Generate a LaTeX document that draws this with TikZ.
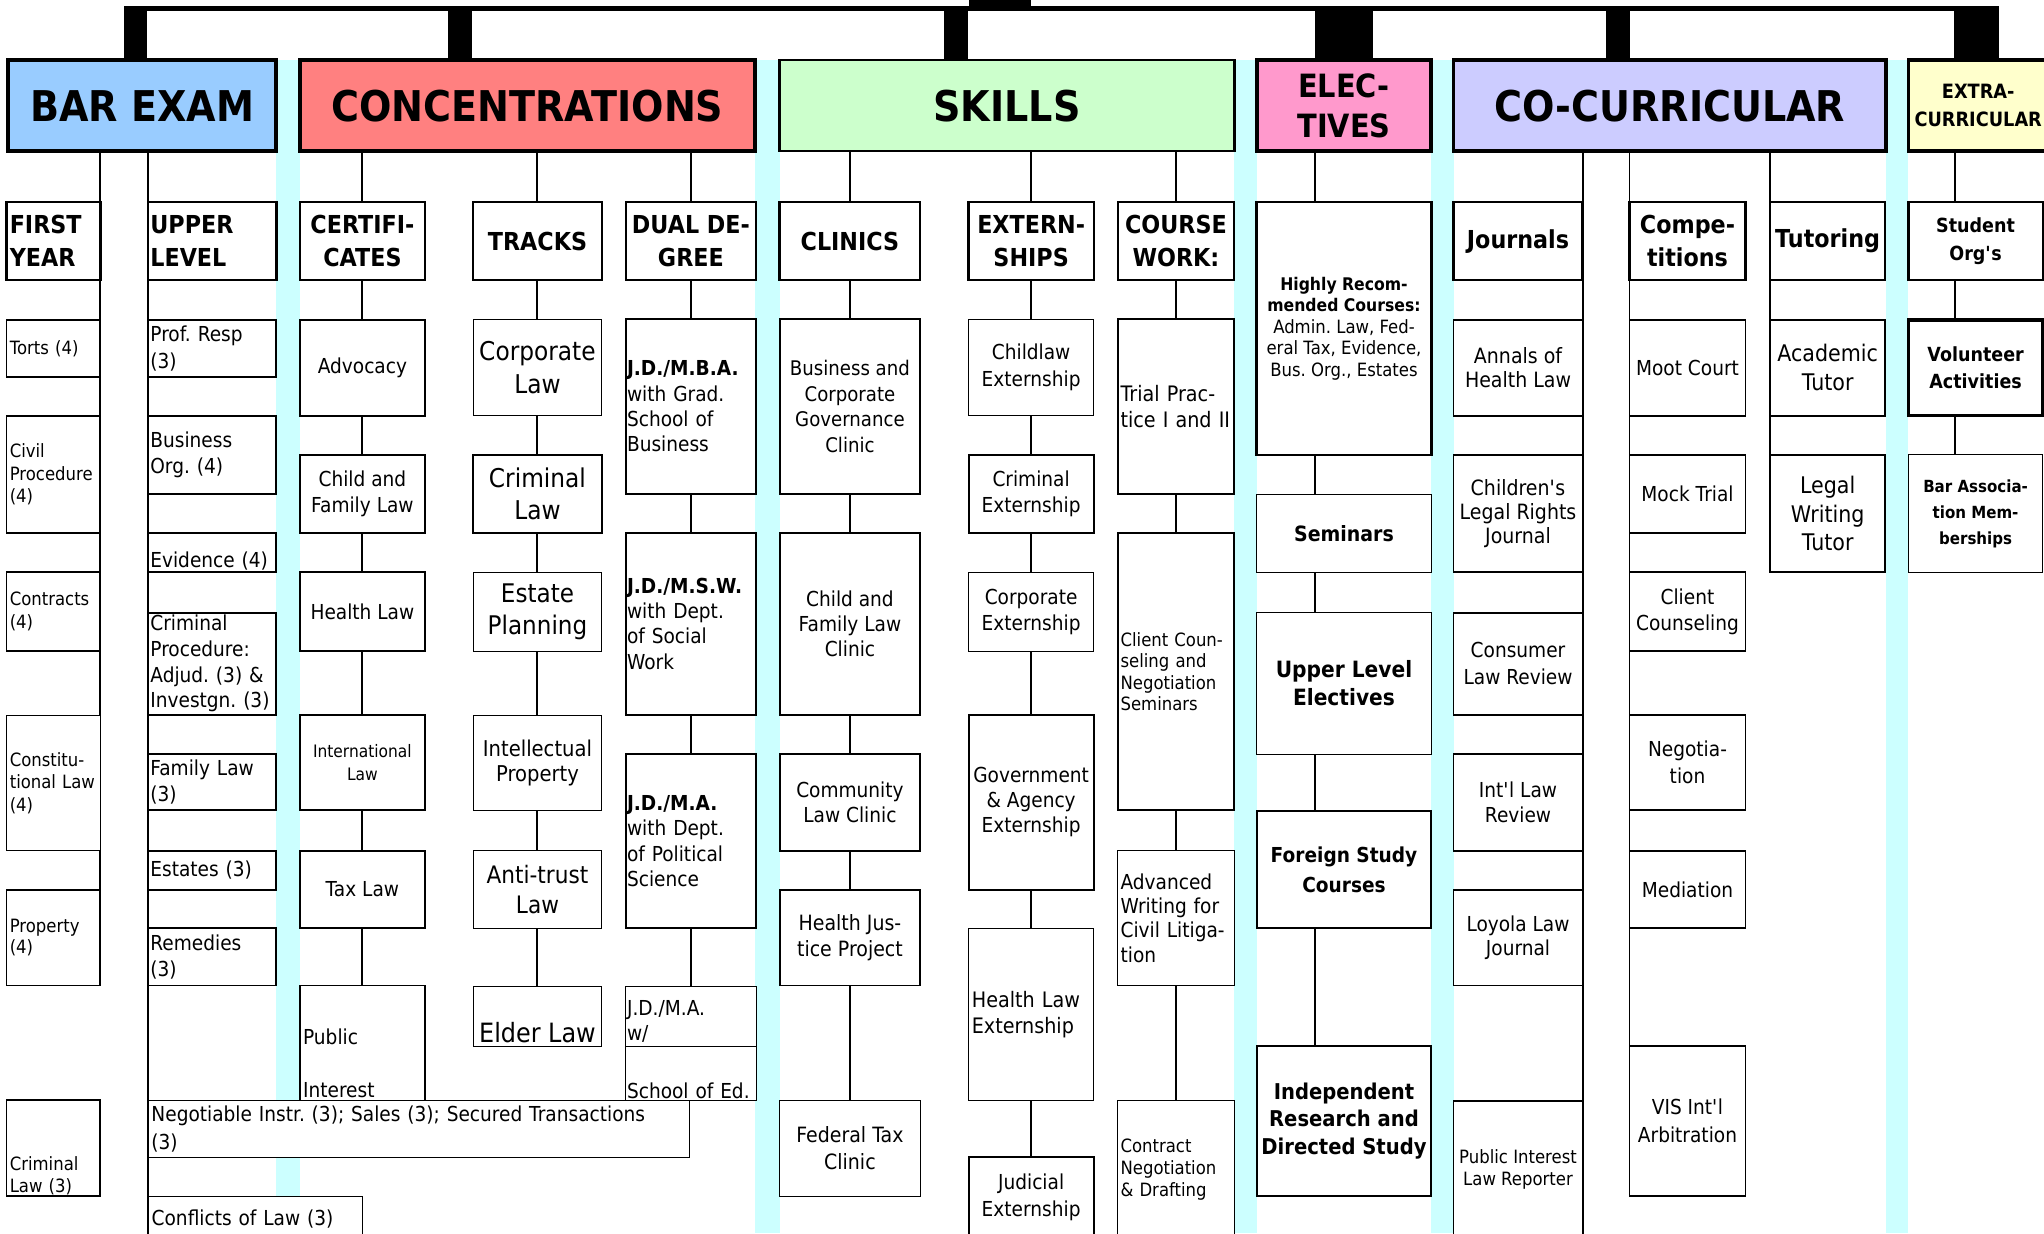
\documentclass[tikz,border=0pt]{standalone}
\usepackage{fontspec}
\setmainfont{DejaVu Sans}[FakeStretch=0.9]
\usepackage{tikz}
\usetikzlibrary{backgrounds}
\definecolor{barblue}{HTML}{99CCFF}
\definecolor{concred}{HTML}{FF8080}
\definecolor{skillgreen}{HTML}{CCFFCC}
\definecolor{electpink}{HTML}{FF99CC}
\definecolor{cocurblue}{HTML}{CCCCFF}
\definecolor{extrayellow}{HTML}{FFFFCC}
\definecolor{stripcyan}{HTML}{CCFFFF}
\newcommand{\dn}[2]{\raisebox{-#1}[\height][\depth]{#2}}
\newcommand{\apos}{\textquotesingle}
\tikzset{cellbox/.style n args = {4}{at={(#1/2+#3/2,#2/2+#4/2)},
                  minimum width={(#3-#1)*0.02cm}, minimum height={(#4-#2)*0.02cm}},
        hdr/.style = {draw, line width=1.7pt, inner sep=0pt, outer sep=0pt, align=center,
                  font=\bfseries\fontsize{18.5}{22}\selectfont},
        sub/.style = {draw, fill=white, line width=1pt, inner sep=0pt, outer sep=0pt, align=center,
                  font=\bfseries\fontsize{10.8}{14.5}\selectfont},
        lsub/.style = {draw, fill=white, line width=1pt, inner sep=0pt, outer sep=0pt, text width=#1,
                  font=\bfseries\fontsize{10.8}{14.5}\selectfont},
        item/.style = {draw, fill=white, line width=0.85pt, inner sep=0pt, outer sep=0pt, align=center},
        litem/.style = {draw, fill=white, line width=0.85pt, inner sep=0pt, outer sep=0pt, text width=#1},
        fsz/.style 2 args = {font=\fontsize{#1}{#2}\selectfont},
        bsz/.style 2 args = {font=\bfseries\fontsize{#1}{#2}\selectfont},
        link/.style = {line width=0.85pt},
        bus/.style = {line width=0.072cm},
        stemline/.style = {line width=#1}
    }

\begin{document}
\frenchspacing
\begin{tikzpicture}[x=0.02cm, y=-0.02cm]
    \useasboundingbox (0,0) rectangle (1568,946);
    \clip (0,0) rectangle (1568,946);
    \tikzstyle{strip} = [fill=stripcyan, draw=none]

    % cyan gaps between the columns
    \fill[strip] (212,46) rectangle (230,946);
    \fill[strip] (579,46) rectangle (598,946);
    \fill[strip] (947,46) rectangle (964,946);
    \fill[strip] (1098,46) rectangle (1115,946);
    \fill[strip] (1447,46) rectangle (1464,946);

    % top level
    \node[fill=black, inner sep=0pt, outer sep=0pt, cellbox={743}{0}{791}{4.6}] (root) {};
    \coordinate (sA) at (104,6.4);
    \coordinate (sB) at (353,6.4);
    \coordinate (sC) at (733.3,6.4);
    \coordinate (sD) at (1031,6.4);
    \coordinate (sE) at (1241.2,6.4);
    \coordinate (sF) at (1516.2,6.4);
    \coordinate (eline) at (1009,0);
    \coordinate (xline) at (1500,0);

    \node[hdr, fill=barblue, cellbox={6}{46}{212}{116}] (barexam) {BAR EXAM};
    \node[hdr, fill=concred, cellbox={230}{46}{579}{116}] (conc) {CONCENTRATIONS};
    \node[hdr, fill=skillgreen, line width=1pt, cellbox={598}{46}{947}{116}] (skills) {SKILLS};
    \node[hdr, fill=electpink, bsz={14}{17.5}, cellbox={964}{46}{1098}{116}] (elect) {ELEC-\\TIVES};
    \node[hdr, fill=cocurblue, cellbox={1115}{46}{1447}{116}] (cocur) {CO-CURRICULAR};
    \node[hdr, fill=extrayellow, bsz={8.6}{12}, cellbox={1464}{46}{1571}{116}] (extra) {EXTRA-\\CURRICULAR};

    \draw[bus] (sA) -- (sF);
    \draw[stemline=0.36cm] (barexam.north -| sA) -- (sA |- root.south);
    \draw[stemline=0.36cm] (conc.north -| sB) -- (sB |- root.south);
    \draw[stemline=0.36cm] (skills.north -| sC) -- (sC |- root.south);
    \draw[stemline=0.88cm] (elect.north -| sD) -- (sD |- root.south);
    \draw[stemline=0.36cm] (cocur.north -| sE) -- (sE |- root.south);
    \draw[stemline=0.694cm] (extra.north -| sF) -- (sF |- root.south);

    % second row
    \node[lsub=1.34cm, cellbox={5}{155}{77}{215}] (firstyear) {FIRST\\YEAR};
    \node[lsub=1.9cm, cellbox={113.7}{155}{212}{215}] (upper) {UPPER\\LEVEL};
    \node[sub, cellbox={230}{155}{326}{215}] (cert) {CERTIFI-\\CATES};
    \node[sub, cellbox={363}{155}{461.6}{215}] (tracks) {TRACKS};
    \node[sub, cellbox={480}{155}{580}{215}] (dual) {DUAL DE-\\GREE};
    \node[sub, cellbox={598}{155}{706}{215}] (clinics) {CLINICS};
    \node[sub, cellbox={743}{155}{839}{215}] (extern) {EXTERN-\\SHIPS};
    \node[sub, cellbox={857.5}{155}{946.7}{215}] (course) {COURSE\\WORK:};
    \node[sub, line width=1.2pt, fsz={8}{9.4}, cellbox={964}{155}{1098}{349}] (highrec)
      {{\bfseries\fontsize{7.6}{9.4}\selectfont Highly Recom-}\\{\bfseries\fontsize{7.6}{9.4}\selectfont mended Courses:}\\Admin. Law, Fed-\\eral Tax, Evidence,\\Bus. Org., Estates};
    \node[sub, cellbox={1115}{155}{1214}{215}] (journals) {Journals};
    \node[sub, cellbox={1250}{155}{1339}{215}] (compe) {Compe-\\titions};
    \node[sub, cellbox={1358}{155}{1446}{215}] (tutoring) {Tutoring};
    \node[sub, bsz={8.5}{12}, cellbox={1464}{155}{1567}{215}] (student) {Student\\Org\apos s};

    % bar exam
    \node[litem=1.34cm, fsz={8}{9.7}, cellbox={5}{245.5}{77}{289}] (torts) {Torts (4)};
    \node[litem=1.34cm, fsz={8}{9.7}, cellbox={5}{319}{77}{408.8}] (civpro) {Civil\\Procedure\\(4)};
    \node[litem=1.34cm, fsz={8}{9.9}, cellbox={5}{438.6}{77}{499.7}] (contracts) {Contracts\\(4)};
    \node[litem=1.34cm, thin, fsz={8}{9.7}, cellbox={5}{549}{77}{652.5}] (conlaw) {Constitu-\\tional Law\\(4)};
    \node[litem=1.34cm, fsz={8}{9.4}, cellbox={5}{682.7}{77}{756}] (property) {Property\\(4)};
    \node[litem=1.34cm, fsz={8}{9.4}, cellbox={5}{844}{77}{917.5}] (crimlaw) {\dn{12pt}{Criminal}\\\dn{12pt}{Law (3)}};

    \node[litem=1.9cm, fsz={9}{11.9}, cellbox={113.7}{245.5}{212}{289}] (profresp) {Prof. Resp\\(3)};
    \node[litem=1.9cm, fsz={9}{11.6}, cellbox={113.7}{319}{212}{378.6}] (busorg) {Business\\Org. (4)};
    \node[litem=1.9cm, fsz={9}{11.6}, cellbox={113.7}{408.8}{212}{438.6}] (evidence) {\dn{4pt}{Evidence (4)}};
    \node[litem=1.9cm, fsz={9}{11.2}, cellbox={113.7}{470}{212}{548.2}] (crimpro) {Criminal\\Procedure:\\Adjud. (3) \&\\Investgn. (3)};
    \node[litem=1.9cm, fsz={9}{11.6}, cellbox={113.7}{578.4}{212}{621.7}] (famlaw) {Family Law\\(3)};
    \node[litem=1.9cm, fsz={9}{11.6}, cellbox={113.7}{652.5}{212}{682.7}] (estates) {Estates (3)};
    \node[litem=1.9cm, fsz={9}{11.6}, cellbox={113.7}{712}{212}{756}] (remedies) {Remedies\\(3)};

    % concentrations
    \node[item, fsz={9}{11.6}, cellbox={230}{245.5}{326}{318.9}] (advocacy) {Advocacy};
    \node[item, fsz={9}{11.6}, cellbox={230}{349}{326}{408.8}] (childfam) {Child and\\Family Law};
    \node[item, fsz={9}{11.6}, cellbox={230}{438.6}{326}{499.7}] (healthlaw) {Health Law};
    \node[item, fsz={7.5}{9.8}, cellbox={230}{548.2}{326}{621.7}] (intl) {International\\Law};
    \node[item, fsz={9}{11.6}, cellbox={230}{652.5}{326}{712}] (taxlaw) {Tax Law};
    \node[litem=1.82cm, fsz={9}{11.6}, cellbox={230}{756}{326}{844.4}] (pubint) {\dn{8.8pt}{Public}\\[11.6pt]\dn{8.8pt}{Interest}};

    \node[item, thin, fsz={11.3}{14.5}, cellbox={363}{245}{461.6}{318.9}] (corplaw) {Corporate\\Law};
    \node[item, fsz={11.3}{14}, cellbox={363}{349}{461.6}{408.8}] (crimtrack) {Criminal\\Law};
    \node[item, thin, fsz={11.2}{14}, cellbox={363}{439.5}{461.6}{499.7}] (estplan) {Estate\\Planning};
    \node[item, thin, fsz={9.5}{11}, cellbox={363}{549}{461.6}{621.7}] (ip) {Intellectual\\Property};
    \node[item, thin, fsz={10.5}{13}, cellbox={363}{652.5}{461.6}{712}] (antitrust) {Anti-trust\\Law};
    \node[item, thin, fsz={11.6}{14}, cellbox={363}{757}{461.6}{803}] (elder) {\dn{7pt}{Elder Law}};

    \node[litem=1.96cm, fsz={9}{11.1}, cellbox={480}{245}{580}{378.6}] (jdmba) {\textbf{J.D./M.B.A.}\\with Grad.\\School of\\Business};
    \node[litem=1.96cm, fsz={9}{11.1}, cellbox={480}{408.8}{580}{548.2}] (jdmsw) {\textbf{J.D./M.S.W.}\\with Dept.\\of Social\\Work};
    \node[litem=1.96cm, fsz={9}{11.1}, cellbox={480}{578.4}{580}{712}] (jdma) {\textbf{J.D./M.A.}\\with Dept.\\of Political\\Science};
    \node[litem=1.96cm, thin, fsz={9}{10.9}, cellbox={480}{757}{580}{803}] (jdmaw) {\dn{2pt}{J.D./M.A.}\\\dn{2pt}{w/}};
    \node[litem=1.96cm, thin, fsz={9}{10.9}, cellbox={480}{803}{580}{844.4}] (schooled) {\dn{7.3pt}{School of Ed.}};

    \node[litem=8.2cm, thin, fsz={9}{12.3}, cellbox={113.7}{844.4}{528.6}{887.8}] (negotiable) {Negotiable Instr. (3); Sales (3); Secured Transactions\\(3)};
    \node[litem=3.18cm, thin, fsz={9}{11.6}, cellbox={113.7}{918}{278}{952}] (conflicts) {Conflicts of Law (3)};

    % skills
    \node[item, fsz={8.8}{11.1}, cellbox={598}{245}{706}{378.6}] (buscorp) {Business and\\Corporate\\Governance\\Clinic};
    \node[item, fsz={9}{11.1}, cellbox={598}{408.8}{706}{548.2}] (childclinic) {Child and\\Family Law\\Clinic};
    \node[item, fsz={9}{10.9}, cellbox={598}{578.4}{706}{652.5}] (community) {Community\\Law Clinic};
    \node[item, fsz={9.2}{11.6}, cellbox={598}{682.7}{706}{756}] (hjp) {Health Jus-\\tice Project};
    \node[item, thin, fsz={9.2}{11.6}, cellbox={598}{844.4}{706}{917.5}] (fedtax) {Federal Tax\\Clinic};

    \node[item, thin, fsz={9}{11.6}, cellbox={743}{245}{839}{318.9}] (childlaw) {Childlaw\\Externship};
    \node[item, fsz={9}{11.6}, cellbox={743}{349}{839}{408.8}] (crimext) {Criminal\\Externship};
    \node[item, thin, fsz={9}{11.6}, cellbox={743}{439.5}{839}{499.7}] (corpext) {Corporate\\Externship};
    \node[item, fsz={9}{10.9}, cellbox={743}{548.2}{839}{682.7}] (govext) {Government\\\& Agency\\Externship};
    \node[litem=1.82cm, thin, fsz={9.3}{11.6}, cellbox={743}{712}{839}{844.4}] (hlext) {Health Law\\Externship};
    \node[item, fsz={9}{11.6}, cellbox={743}{887.3}{839}{950}] (judicial) {Judicial\\Externship};

    \node[litem=1.70cm, fsz={9.3}{11.4}, cellbox={857.5}{245}{946.7}{378.6}] (trial) {Trial Prac-\\tice I and II};
    \node[litem=1.70cm, fsz={8}{9.3}, cellbox={857.5}{408.8}{946.7}{621.7}] (clientsem) {Client Coun-\\seling and\\Negotiation\\Seminars};
    \node[litem=1.70cm, thin, fsz={9}{10.6}, cellbox={857.5}{652.5}{946.7}{756}] (advwrite) {Advanced\\Writing for\\Civil Litiga-\\tion};
    \node[litem=1.70cm, thin, fsz={8}{9.5}, cellbox={857.5}{844.4}{946.7}{950}] (contract) {Contract\\Negotiation\\\& Drafting};

    % electives
    \node[item, thin, bsz={9.2}{12}, cellbox={964}{379.2}{1098}{438.9}] (seminars) {Seminars};
    \node[item, thin, bsz={9.8}{12.4}, cellbox={964}{469.6}{1098}{578.4}] (ule) {Upper Level\\Electives};
    \node[item, bsz={9}{13}, cellbox={964}{622.2}{1098}{712}] (foreign) {Foreign Study\\Courses};
    \node[item, bsz={9.5}{12}, cellbox={964}{802.4}{1098}{917.5}] (indep) {Independent\\Research and\\Directed Study};

    % co-curricular
    \node[item, fsz={9.2}{10.5}, cellbox={1115}{245.5}{1214}{318.9}] (annals) {Annals of\\Health Law};
    \node[item, fsz={9.2}{10.5}, cellbox={1115}{349}{1214}{438.9}] (clrj) {Children\apos s\\Legal Rights\\Journal};
    \node[item, fsz={9}{11.6}, cellbox={1115}{470.1}{1214}{548.2}] (clr) {Consumer\\Law Review};
    \node[item, fsz={9}{11}, cellbox={1115}{578.4}{1214}{652.5}] (ilr) {Int\apos l Law\\Review};
    \node[item, fsz={9}{10.9}, cellbox={1115}{682.7}{1214}{756}] (llj) {Loyola Law\\Journal};
    \node[item, fsz={8}{9.4}, cellbox={1115}{844.4}{1214}{950}] (pilr) {Public Interest\\Law Reporter};

    \node[item, fsz={9}{11.6}, cellbox={1250}{245.5}{1339}{318.9}] (moot) {Moot Court};
    \node[item, fsz={9}{11.6}, cellbox={1250}{349}{1339}{408.8}] (mock) {Mock Trial};
    \node[item, fsz={9}{11.6}, cellbox={1250}{438.9}{1339}{499.7}] (cc) {Client\\Counseling};
    \node[item, fsz={9}{11.6}, cellbox={1250}{548.2}{1339}{621.7}] (negot) {Negotia-\\tion};
    \node[item, fsz={9}{11.6}, cellbox={1250}{652.5}{1339}{712}] (mediation) {Mediation};
    \node[item, fsz={9}{12}, cellbox={1250}{802.4}{1339}{917.5}] (vis) {VIS Int\apos l\\Arbitration};

    \node[item, fsz={10}{12.6}, cellbox={1358}{245.5}{1446}{318.9}] (acad) {Academic\\Tutor};
    \node[item, fsz={10}{12.4}, cellbox={1358}{349}{1446}{438.9}] (lwtutor) {Legal\\Writing\\Tutor};

    % extra-curricular
    \node[item, line width=1.4pt, bsz={8.5}{11.6}, cellbox={1464}{245.5}{1567}{318.9}] (volunteer) {Volunteer\\Activities};
    \node[item, thin, bsz={7.3}{11.3}, cellbox={1464}{349}{1567}{438.9}] (barassoc) {Bar Associa-\\tion Mem-\\berships};

    \begin{scope}[on background layer]
      \fill[white] (0,0) rectangle (1568,946);
      \draw[link] (barexam.south -| firstyear.east) -- (property.south east);
      \draw[link] (barexam.south -| upper.west) -- (conflicts.south west);
      \draw[link] (conc.south -| cert.north) -- (pubint);
      \draw[link] (conc.south -| tracks.north) -- (elder);
      \draw[link] (conc.south -| dual.north) -- (jdmaw);
      \draw[link] (skills.south -| clinics.north) -- (fedtax);
      \draw[link] (skills.south -| extern.north) -- (judicial);
      \draw[link] (skills.south -| course.north) -- (contract);
      \draw[link] (elect.south -| eline) -- (indep.north -| eline);
      \draw[link] (cocur.south -| journals.east) -- (pilr.south east);
      \draw[link] (cocur.south -| compe.west) -- (vis.north west);
      \draw[link] (cocur.south -| tutoring.west) -- (lwtutor.north west);
      \draw[link] (extra.south -| xline) -- (barassoc.north -| xline);
    \end{scope}
\end{tikzpicture}
\end{document}
